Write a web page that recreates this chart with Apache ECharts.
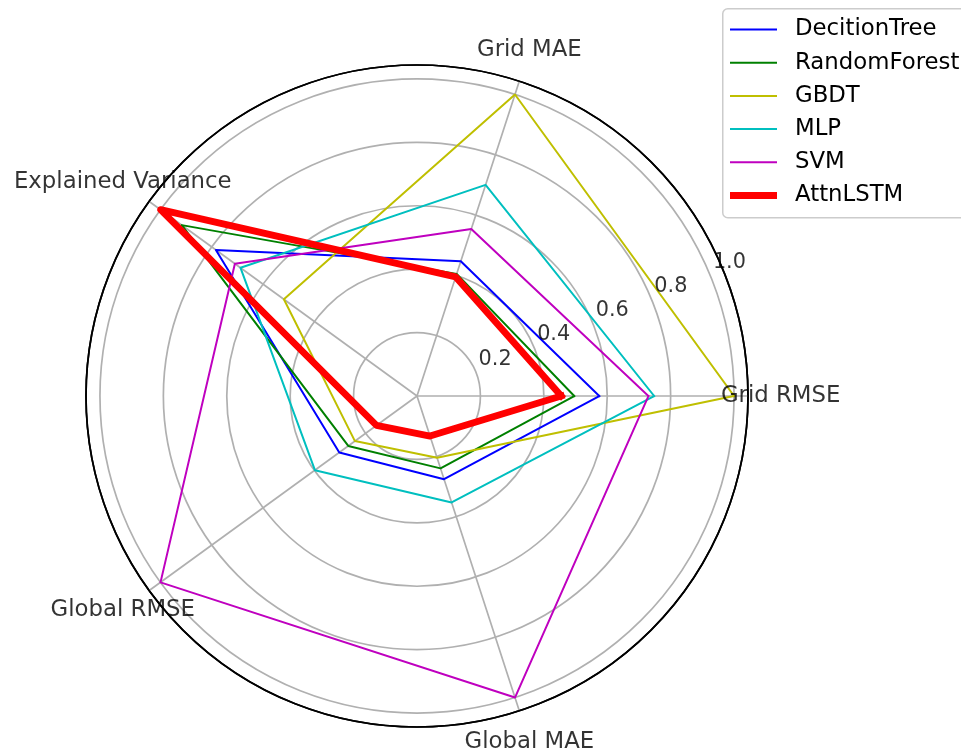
<!DOCTYPE html>
<html>
<head>
<meta charset="utf-8">
<script src="https://cdn.jsdelivr.net/npm/echarts@6/dist/echarts.min.js"></script>
<style>
  html, body { margin: 0; padding: 0; background: #ffffff; }
  #chart { width: 961px; height: 755px; }
</style>
</head>
<body>
<div id="chart"></div>
<script>
// ---- data ----
const categories = ['Grid RMSE', 'Grid MAE', 'Explained Variance', 'Global RMSE', 'Global MAE'];
const seriesNames = ['DecitionTree', 'RandomForest', 'GBDT', 'MLP', 'SVM', 'AttnLSTM'];
const decisionTree = [0.575, 0.447, 0.784, 0.303, 0.276];
const randomForest = [0.496, 0.405, 0.917, 0.268, 0.240];
const gbdt         = [1.000, 1.000, 0.519, 0.242, 0.205];
const mlp          = [0.748, 0.700, 0.688, 0.398, 0.353];
const svm          = [0.730, 0.554, 0.710, 1.000, 1.000];
const attnLSTM     = [0.455, 0.395, 1.000, 0.158, 0.133];
const radialTicks  = [0.2, 0.4, 0.6, 0.8, 1.0];

// ---- styles ----
const FONT = 'DejaVu Sans';
const FS = 22.8;
const FS_R = 20.8;
const colors = ['#0000ff', '#008000', '#bfbf00', '#00bfbf', '#bf00bf', '#ff0000'];
const widths = [2, 2, 2, 2, 2, 6.8];
const allValues = [decisionTree, randomForest, gbdt, mlp, svm, attnLSTM];
const R_MAX = 1.044;
const LABEL_R = 1.147;
const RLABEL_ANGLE = 22.5;
const step = 360 / categories.length;

function polyData(vals) {
  const d = vals.map((v, i) => [v, i * step]);
  d.push([vals[0], 0]);
  return d;
}

const series = seriesNames.map((name, k) => ({
  name: name,
  type: 'line',
  coordinateSystem: 'polar',
  polarIndex: 0,
  data: polyData(allValues[k]),
  symbol: 'none',
  clip: false,
  silent: true,
  z: 3 + k,
  lineStyle: { color: colors[k], width: widths[k], join: 'round', cap: 'square' },
  itemStyle: { color: colors[k] }
}));

const labelBase = {
  show: true, position: 'inside', color: '#000000', fontFamily: FONT,
  textBorderWidth: 0, textBorderColor: 'transparent', textShadowBlur: 0
};

// category labels around the circle
series.push({
  type: 'scatter',
  coordinateSystem: 'polar',
  polarIndex: 0,
  clip: false,
  silent: true,
  symbolSize: 1,
  itemStyle: { color: 'rgba(0,0,0,0)' },
  z: 20,
  data: categories.map((c, i) => [LABEL_R, i * step]),
  label: Object.assign({}, labelBase, {
    fontSize: FS,
    formatter: p => categories[p.dataIndex]
  })
});

// radial tick labels
series.push({
  type: 'scatter',
  coordinateSystem: 'polar',
  polarIndex: 0,
  clip: false,
  silent: true,
  symbolSize: 1,
  itemStyle: { color: 'rgba(0,0,0,0)' },
  z: 20,
  data: radialTicks.map(t => [t, RLABEL_ANGLE]),
  label: Object.assign({}, labelBase, {
    fontSize: FS_R, offset: [19.5, -12.5],
    formatter: p => radialTicks[p.dataIndex].toFixed(1)
  })
});

const chart = echarts.init(document.getElementById('chart'), null, { renderer: 'canvas' });
chart.setOption({
  backgroundColor: '#ffffff',
  animation: false,
  polar: { center: [417, 396], radius: 331 },
  angleAxis: {
    type: 'value', min: 0, max: 360, interval: step,
    startAngle: 0, clockwise: false,
    axisLine: { show: true, lineStyle: { color: '#000', width: 1.7 } },
    axisTick: { show: false },
    axisLabel: { show: false },
    splitLine: { show: true, lineStyle: { color: '#b0b0b0', width: 1.7 } }
  },
  radiusAxis: {
    type: 'value', min: 0, max: R_MAX, interval: 0.2,
    axisLine: { show: false },
    axisTick: { show: false },
    axisLabel: { show: false },
    splitLine: { show: true, lineStyle: { color: ['#b0b0b0','#b0b0b0','#b0b0b0','#b0b0b0','#b0b0b0','#b0b0b0','#000000'], width: 1.7 } }
  },
  graphic: [{
    type: 'rect', left: 722, top: 8, z: 0, silent: true,
    shape: { width: 280, height: 209, r: 5 },
    style: { fill: '#ffffff', stroke: '#cccccc', lineWidth: 1.5 }
  }],
  legend: {
    orient: 'vertical',
    left: 722, top: 10,
    padding: [8, 0, 8, 8],
    itemWidth: 47, itemHeight: 14, itemGap: 10.2, itemTextGap: 19,
    selectedMode: false,
    borderWidth: 0,
    z: 10,
    symbolKeepAspect: true,
    textStyle: { fontFamily: FONT, fontSize: FS, color: '#000000', lineHeight: 23, padding: [0, 0, 0, 13] },
    data: seriesNames.map((n, k) => ({
      name: n,
      icon: k === 5 ? 'path://M0,0H47V6.8H0Z' : 'path://M0,0H47V2H0Z',
      itemStyle: { color: colors[k], borderWidth: 0, opacity: 1 }
    }))
  },
  series: series
});
</script>
</body>
</html>
